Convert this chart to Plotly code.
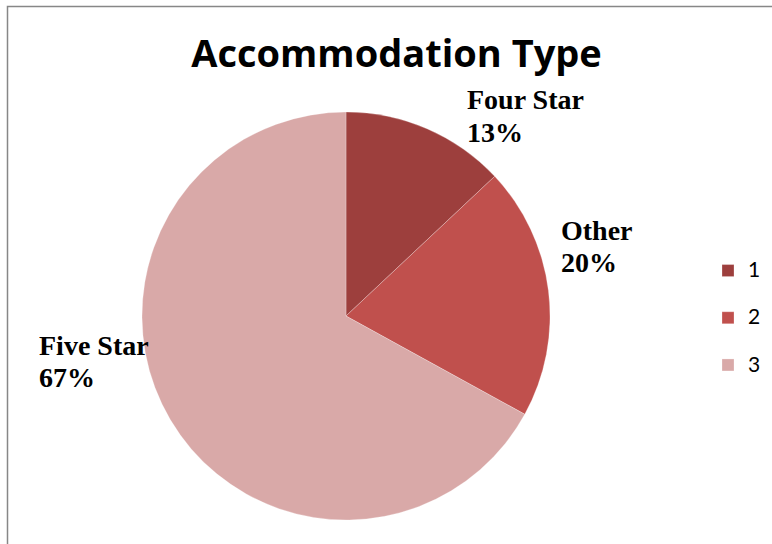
import plotly.graph_objects as go

# Data
legend_labels = ["1", "2", "3"]
category_names = ["Four Star", "Other", "Five Star"]
values = [13, 20, 67]
colors = ["#9D3F3D", "#C0504D", "#D9A9A8"]
title_text = "Accommodation Type"

W, H = 772, 544

total = sum(values)
pcts = [round(v / total * 100) for v in values]

legend_text = [f"<span style='font-size:21px'>{l}</span><br>&nbsp;" for l in legend_labels]

fig = go.Figure()
fig.add_trace(go.Pie(
    labels=legend_text,
    values=values,
    sort=False,
    direction="clockwise",
    rotation=0,
    marker=dict(colors=colors, line=dict(color="rgba(255,255,255,0.5)", width=0.5)),
    textinfo="none",
    hoverinfo="value+percent",
    domain=dict(x=[142 / W, 550 / W], y=[(H - 520) / H, (H - 112) / H]),
    showlegend=True,
))

# Data label positions (pixels: left x, baseline of name line, baseline of percent line)
label_pos = [(465, 110, 143), (559, 241, 273), (37, 356, 388)]
annotations = []
lab_font = dict(family="Liberation Serif, DejaVu Serif, serif", size=28, color="#000000")
for (px, b1, b2), name, p in zip(label_pos, category_names, pcts):
    for txt, b in ((name, b1), (f"{p}%", b2)):
        annotations.append(dict(
            x=px / W, y=(H - (b - 10.5)) / H, xref="paper", yref="paper",
            xanchor="left", yanchor="middle", align="left",
            showarrow=False,
            text=f"<b>{txt}</b>",
            font=lab_font,
        ))

fig.update_layout(
    width=W, height=H,
    margin=dict(l=0, r=0, t=0, b=0),
    paper_bgcolor="white",
    plot_bgcolor="white",
    title=dict(
        text=f"<b>{title_text}</b>",
        x=396.5 / W, xanchor="center",
        y=(H - 54) / H, yanchor="middle",
        font=dict(family="Open Sans, Lato, sans-serif", size=38, color="#000000"),
    ),
    legend=dict(
        x=708 / W, xanchor="left",
        y=(H - 329) / H, yanchor="middle",
        font=dict(family="Lato, Liberation Sans, sans-serif", size=17, color="#000000"),
        bgcolor="rgba(0,0,0,0)",
        valign="top",
        itemwidth=30,
    ),
    annotations=annotations,
    shapes=[dict(
        type="rect", xref="paper", yref="paper",
        x0=7.5 / W, x1=1.2, y0=-0.2, y1=(H - 6.5) / H,
        line=dict(color="#878787", width=1.5),
        fillcolor="rgba(0,0,0,0)",
        layer="below",
    )],
)

fig.write_html("out.html")
